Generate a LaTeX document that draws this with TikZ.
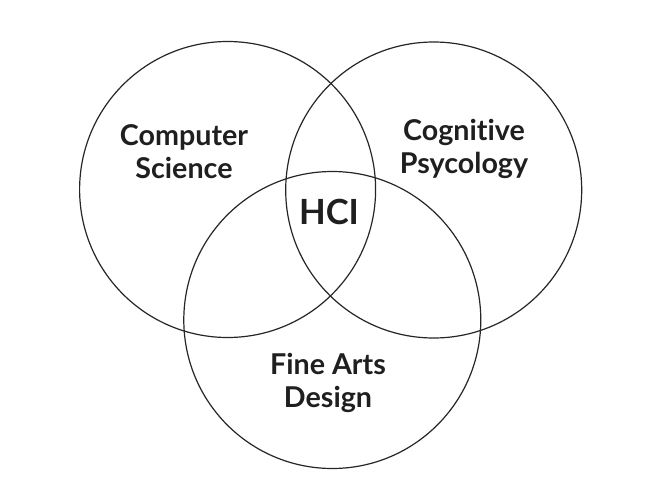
\documentclass[tikz,border=0pt]{standalone}
\usepackage{fontspec}
\setmainfont{Lato}[Ligatures=NoCommon]
\begin{document}
\begin{tikzpicture}[x=0.75pt,y=-0.75pt,
  ring/.style={draw=black!85,line width=0.9pt},
  lbl/.style={font=\fontsize{21.5}{25}\selectfont\bfseries,text=black!88,align=center,inner sep=0pt},
  big/.style={font=\fontsize{26}{30}\selectfont\bfseries,text=black!88,inner sep=0pt}]
\useasboundingbox[fill=white] (0,0) rectangle (658,500);
\draw[ring] (227.6,189.5) circle[radius=148];
\draw[ring] (433.7,190) circle[radius=148];
\draw[ring] (332.3,320) circle[radius=148.5];
\node[lbl] (cs) at (184,151.5) {Computer\\Science};
\node[lbl] (cp) at (464,149) {Cognitive\\Psycology};
\node[lbl] (fa) at (328,383) {Fine Arts\\Design};
\node[big] (hci) at (329,212) {HCI};
\end{tikzpicture}
\end{document}
